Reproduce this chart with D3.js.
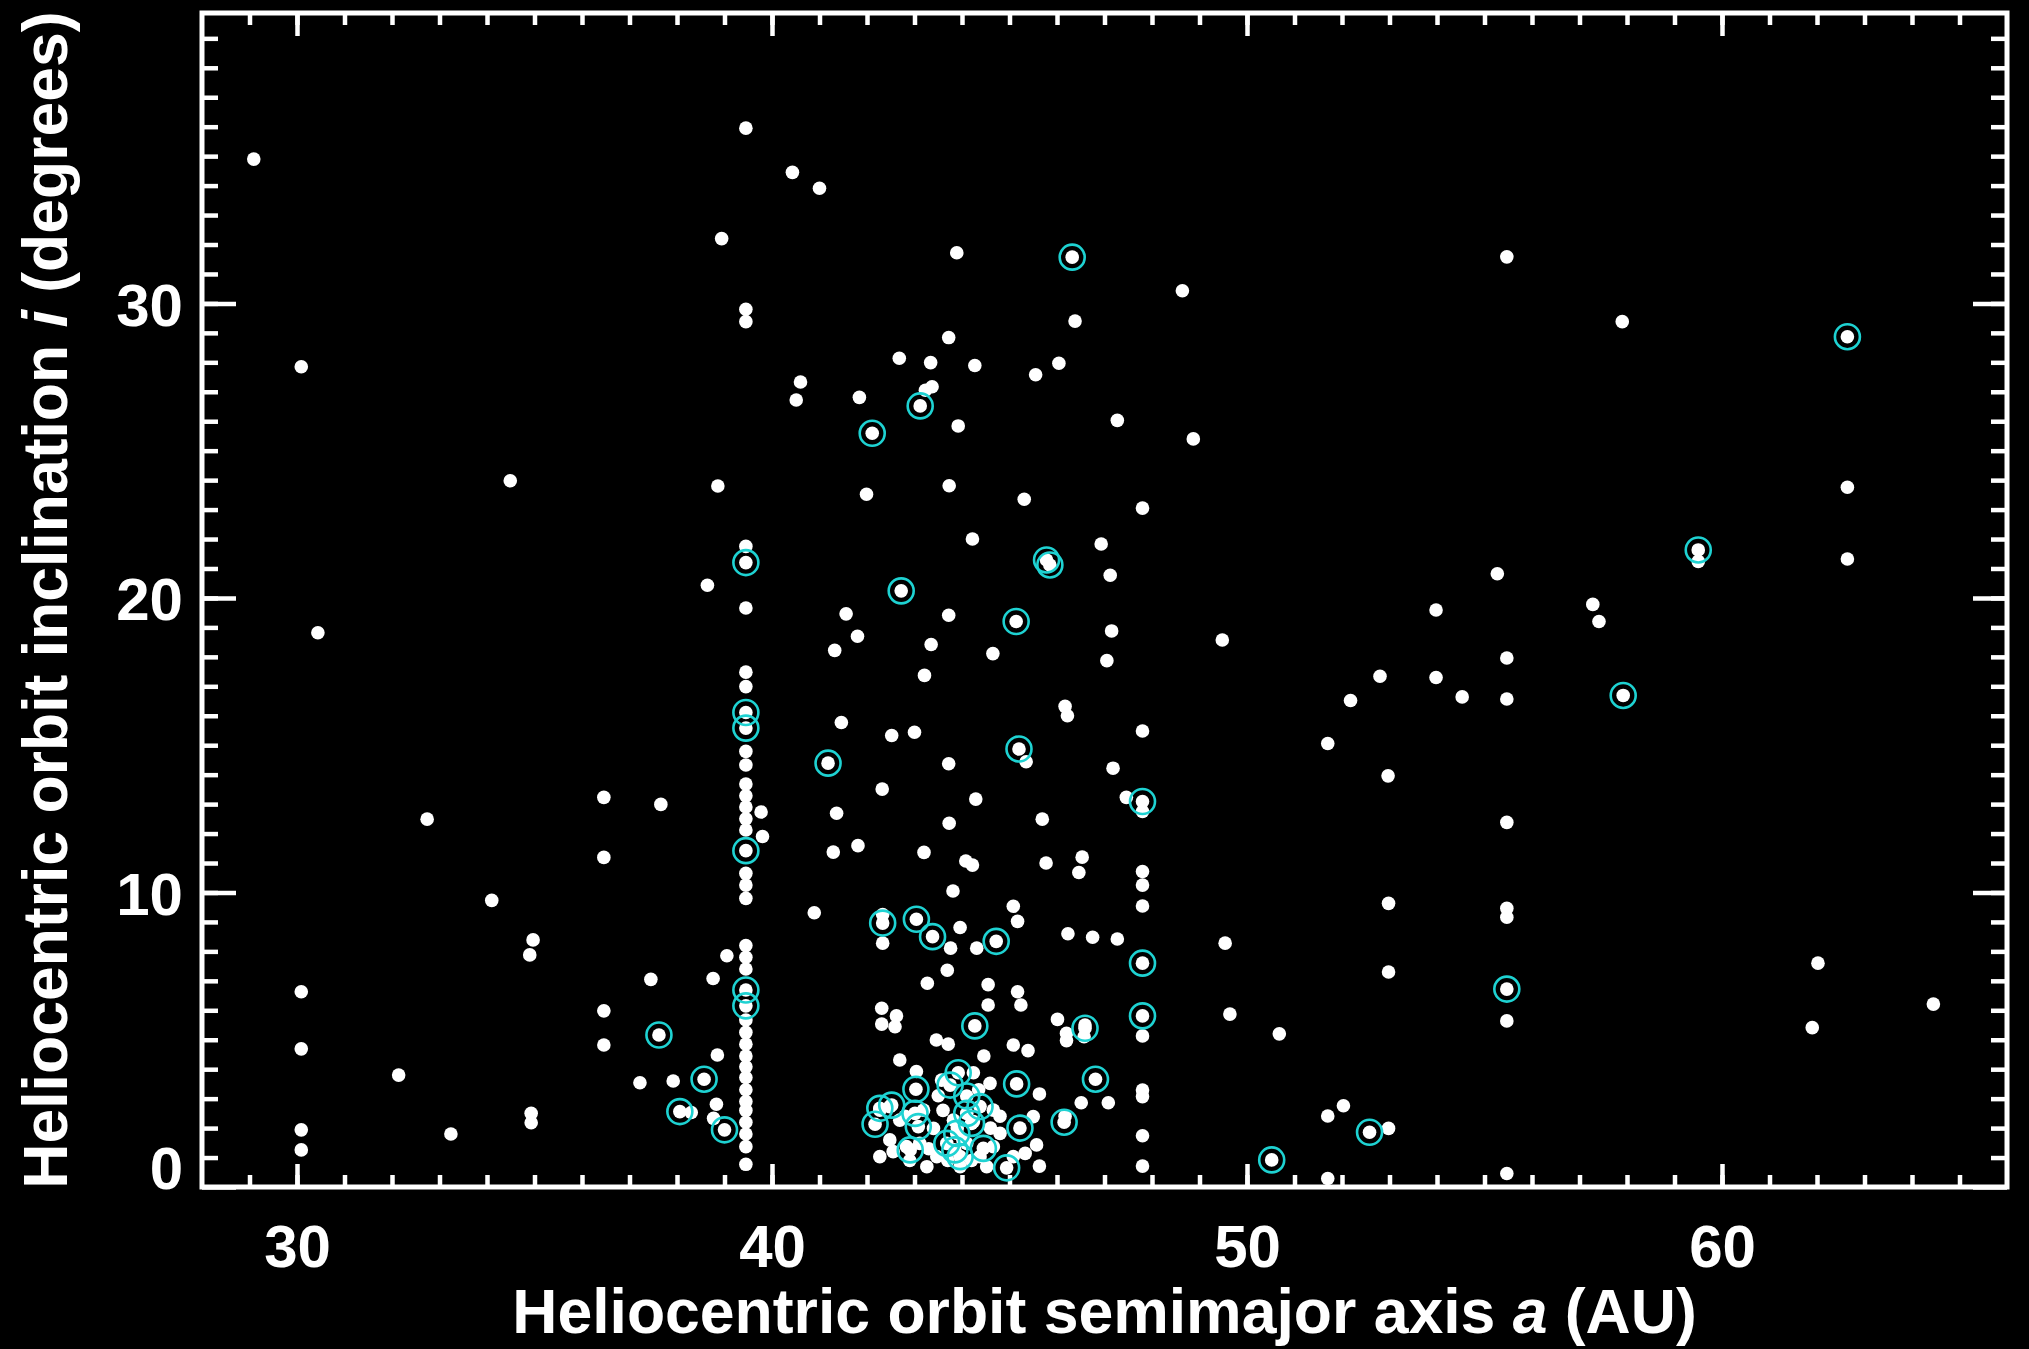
<!DOCTYPE html>
<html>
<head>
<meta charset="utf-8">
<script src="https://cdn.jsdelivr.net/npm/d3@7"></script>
<style>
  html, body { margin: 0; padding: 0; background: #000; }
  svg { display: block; }
</style>
</head>
<body>
<svg id="chart" width="2029" height="1349"></svg>
<script>
// Trans-Neptunian objects: heliocentric semimajor axis (AU) against orbit inclination (deg).
// Objects in the first pair of arrays are plain dots; the second pair are also ringed.

const plainAxis = [
  29.09, 39.45, 38.94, 39.45, 39.45, 30.09, 40.43, 41.00, 43.89, 48.64,
  46.38, 43.72, 42.68, 43.34, 44.27, 45.55, 46.04, 40.60, 40.51, 41.84,
  43.37, 43.23, 43.92, 47.27, 48.87, 55.47, 57.90, 34.49, 38.86, 39.45,
  38.64, 39.45, 30.44, 39.45, 39.45, 39.45, 39.45, 39.45, 39.45, 39.45,
  39.45, 39.45, 39.77, 39.80, 36.46, 37.66, 32.74, 36.46, 39.45, 39.45,
  39.45, 34.10,
  41.99, 43.73, 45.31, 47.80, 44.22, 46.93, 47.12, 41.56, 43.72, 47.15,
  49.48, 41.80, 41.32, 43.35, 44.65, 47.05, 43.21, 46.17, 46.22, 41.46,
  47.80, 42.52, 43.00, 45.35, 43.72, 47.18, 42.32, 44.29, 47.46, 47.80,
  41.36, 43.73, 45.69, 41.29, 41.81, 43.20, 44.08, 44.22, 45.77, 46.53,
  46.46, 47.80, 47.80, 47.80, 43.81,
  62.64, 59.50, 62.64, 55.27, 53.98, 57.28, 57.41, 55.47, 52.80, 53.98,
  52.18, 54.53, 55.47, 51.70, 52.97, 55.47,
  34.97, 34.90, 39.45, 39.45, 39.45, 39.05, 30.09, 37.45, 38.76, 36.46,
  39.45, 39.45, 39.45, 39.45, 39.45, 36.46, 30.09, 38.85, 32.14, 37.22,
  37.92, 39.45, 39.45, 39.45, 38.83, 38.30, 38.77, 34.93, 34.93, 30.09,
  30.09, 33.24, 39.45, 39.45, 39.45, 39.45, 39.45,
  40.89, 42.33, 42.33, 43.96, 43.76, 44.31, 45.08, 45.17, 43.69, 43.27,
  44.55, 44.55, 42.31, 42.62, 42.31, 42.59, 43.46, 43.71, 44.46, 45.08,
  46.23, 46.75, 47.27, 49.54, 45.17, 45.24, 46.01, 46.20, 46.20, 46.59,
  46.57, 47.80, 49.64, 45.39, 45.63, 46.51, 47.08, 46.17, 47.80, 47.80,
  47.80, 47.80, 45.50, 45.57, 45.33, 45.63,
  52.98, 55.47, 55.47, 52.98, 55.47, 50.68, 62.02, 61.90, 64.45, 52.03,
  51.70, 52.98, 51.70, 55.47,
  42.69, 43.04, 44.24, 44.59, 43.57, 42.48, 42.27, 43.19, 42.69, 43.40,
  44.24, 44.66, 42.48, 42.83, 43.11, 43.47, 42.27, 42.55, 44.38, 44.66,
  44.10, 43.82, 44.80, 45.08, 44.52, 43.96, 43.26,
  43.90, 44.02, 43.70, 44.20, 42.90, 43.30, 44.60, 43.60, 42.80, 44.80,
  43.50, 44.35
];

const plainIncl = [
  34.90, 35.95, 32.20, 29.80, 29.38, 27.85, 34.45, 33.91, 31.72, 30.43,
  29.40, 28.84, 28.14, 27.99, 27.89, 27.58, 27.97, 27.33, 26.72, 26.81,
  27.17, 27.05, 25.84, 26.03, 25.40, 31.58, 29.38, 23.98, 23.80, 21.75,
  20.43, 19.66, 18.82, 17.48, 16.99, 14.79, 14.33, 13.68, 13.28, 12.90,
  12.50, 12.12, 12.73, 11.90, 13.23, 12.99, 12.49, 11.19, 10.65, 10.25,
   9.80,  9.73,
  23.52, 23.81, 23.35, 23.05, 22.00, 21.83, 20.77, 19.46, 19.41, 18.88,
  18.57, 18.70, 18.22, 18.42, 18.11, 17.87, 17.37, 16.32, 16.00, 15.77,
  15.48, 15.33, 15.44, 14.44, 14.37, 14.22, 13.51, 13.17, 13.23, 12.75,
  12.69, 12.35, 12.49, 11.37, 11.59, 11.36, 11.07, 10.93, 11.00, 11.20,
  10.68, 10.71, 10.25,  9.54, 10.05,
  23.76, 21.24, 21.32, 20.82, 19.59, 19.78, 19.20, 17.96, 17.34, 17.30,
  16.52, 16.64, 16.57, 15.06, 13.96, 12.38,
   8.39,  7.88,  8.20,  7.80,  7.40,  7.85,  6.63,  7.05,  7.08,  5.98,
   5.67,  5.25,  4.85,  4.45,  4.08,  4.82,  4.69,  4.48,  3.80,  3.54,
   3.60,  3.72,  3.30,  2.90,  2.81,  2.53,  2.33,  2.50,  2.18,  1.94,
   1.26,  1.80,  2.60,  2.20,  1.80,  1.37,  0.77,
   9.31,  9.25,  8.28,  8.81,  8.11,  8.11,  9.53,  9.02,  7.36,  6.92,
   6.87,  6.18,  6.07,  5.81,  5.53,  5.44,  4.99,  4.85,  4.45,  4.82,
   8.60,  8.48,  8.42,  8.28,  6.63,  6.18,  5.69,  5.22,  4.97,  5.50,
   5.10,  5.13,  5.87,  4.63,  3.16,  2.86,  2.86,  2.40,  3.29,  3.07,
   1.74,  0.71,  2.39,  1.43,  1.14,  0.71,
   9.63,  9.46,  9.16,  7.30,  5.64,  5.20,  7.60,  5.41,  6.21,  2.76,
   2.41,  1.99,  0.29,  0.46,
   4.31,  3.92,  3.88,  3.52,  3.63,  2.73,  2.61,  2.61,  2.27,  1.99,
   2.22,  2.61,  1.60,  1.37,  1.48,  1.03,  1.03,  1.20,  1.03,  1.37,
   1.48,  2.27,  1.82,  1.03,  0.69,  0.69,  0.69,
   2.00,  1.60,  0.90,  0.90,  0.90,  1.30,  2.00,  2.60,  2.40,  2.40,
   3.10,  3.30
];

const ringAxis = [
  46.32, 43.12, 42.11, 62.64, 39.45, 39.45, 39.45, 39.45, 45.78, 45.85,
  42.72, 45.14, 45.20, 41.18, 47.80, 59.50, 57.92, 39.45, 39.45, 37.62,
  38.57, 38.06, 39.00, 42.33, 43.04, 43.38, 44.72, 44.27, 47.80, 46.59,
  47.80, 45.15, 46.81, 46.15, 45.22, 44.94, 55.47, 52.58, 50.52,
  43.03, 43.92, 43.75, 42.52, 42.27, 42.17, 43.01, 43.08, 44.10, 44.38,
  44.10, 44.20, 43.89, 43.68, 43.85, 43.96, 42.91, 44.45
];

const ringIncl = [
  31.57, 26.52, 25.59, 28.87, 21.20, 16.11, 15.58, 11.42, 21.29, 21.12,
  20.24, 19.20, 14.87, 14.39, 13.09, 21.63, 16.69,  6.69,  6.15,  5.16,
   3.66,  2.56,  1.94,  8.96,  9.09,  8.50,  8.34,  5.47,  7.60,  5.39,
   5.81,  3.50,  3.66,  2.20,  2.00,  0.65,  6.72,  1.86,  0.92,
   3.32,  3.88,  3.46,  2.78,  2.67,  2.13,  2.50,  2.05,  3.09,  2.73,
   2.50,  2.16,  1.82,  1.48,  1.26,  1.03,  1.26,  1.31
];

const xMajorTicks = [30, 40, 50, 60];
const yMajorTicks = [0, 10, 20, 30];
const xMinorTicks = d3.range(29, 66);
const yMinorTicks = d3.range(1, 40);

const xTitle = ["Heliocentric orbit semimajor axis ", "a", " (AU)"];
const yTitle = ["Heliocentric orbit inclination ", "i", " (degrees)"];

const W = 2029, H = 1349;
const plotL = 202, plotR = 2007, plotT = 13, plotB = 1187;
const FONT = "'Liberation Sans', Arial, Helvetica, sans-serif";
const RING = "#1ed2d2";

const x = d3.scaleLinear().domain([28, 66]).range([plotL, plotR]);
const y = d3.scaleLinear().domain([0, 39.86]).range([plotB, plotT]);

const svg = d3.select("#chart");
svg.append("rect").attr("width", W).attr("height", H).attr("fill", "#000");

function cleanAxis(g, width) {
  g.select(".domain").remove();
  g.selectAll(".tick line").attr("stroke", "#fff").attr("stroke-width", width);
  g.selectAll(".tick text")
    .attr("fill", "#fff")
    .attr("font-family", FONT)
    .attr("font-weight", "bold")
    .attr("font-size", 60);
}

// bottom axis: minor and major ticks pointing into the plot, labels below
svg.append("g").attr("transform", `translate(0,${plotB})`)
  .call(d3.axisBottom(x).tickValues(xMinorTicks).tickSize(-12).tickFormat(""))
  .call(g => cleanAxis(g, 4.5));
svg.append("g").attr("transform", `translate(0,${plotB})`)
  .call(d3.axisBottom(x).tickValues(xMajorTicks).tickSize(-23).tickFormat(d3.format("d")))
  .call(g => cleanAxis(g, 4.5))
  .call(g => g.selectAll(".tick text").attr("y", 80).attr("dy", 0));

// top axis mirrors the bottom one, no labels
svg.append("g").attr("transform", `translate(0,${plotT})`)
  .call(d3.axisTop(x).tickValues(xMinorTicks).tickSize(-12).tickFormat(""))
  .call(g => cleanAxis(g, 4.5));
svg.append("g").attr("transform", `translate(0,${plotT})`)
  .call(d3.axisTop(x).tickValues(xMajorTicks).tickSize(-23).tickFormat(""))
  .call(g => cleanAxis(g, 4.5));

// left axis
svg.append("g").attr("transform", `translate(${plotL},0)`)
  .call(d3.axisLeft(y).tickValues(yMinorTicks).tickSize(-16).tickFormat(""))
  .call(g => cleanAxis(g, 4.5));
svg.append("g").attr("transform", `translate(${plotL},0)`)
  .call(d3.axisLeft(y).tickValues(yMajorTicks).tickSize(-34).tickFormat(d3.format("d")))
  .call(g => cleanAxis(g, 4.5))
  .call(g => g.selectAll(".tick text").attr("x", -19).attr("dy", "0.36em"))
  .call(g => g.selectAll(".tick text").filter(d => d === 0).attr("dy", "0.03em"));

// right axis
svg.append("g").attr("transform", `translate(${plotR},0)`)
  .call(d3.axisRight(y).tickValues(yMinorTicks).tickSize(-16).tickFormat(""))
  .call(g => cleanAxis(g, 4.5));
svg.append("g").attr("transform", `translate(${plotR},0)`)
  .call(d3.axisRight(y).tickValues(yMajorTicks).tickSize(-34).tickFormat(""))
  .call(g => cleanAxis(g, 4.5));

// plot frame
svg.append("rect")
  .attr("x", plotL).attr("y", plotT)
  .attr("width", plotR - plotL).attr("height", plotB - plotT)
  .attr("fill", "none").attr("stroke", "#fff").attr("stroke-width", 5);

// objects
const plain = plainAxis.map((a, k) => ({ a, i: plainIncl[k] }));
const ringed = ringAxis.map((a, k) => ({ a, i: ringIncl[k] }));

svg.append("g").selectAll("circle")
  .data(plain.concat(ringed))
  .join("circle")
  .attr("cx", d => x(d.a))
  .attr("cy", d => y(d.i))
  .attr("r", 6.8)
  .attr("fill", "#fff");

svg.append("g").selectAll("circle")
  .data(ringed)
  .join("circle")
  .attr("cx", d => x(d.a))
  .attr("cy", d => y(d.i))
  .attr("r", 12.5)
  .attr("fill", "none")
  .attr("stroke", RING)
  .attr("stroke-width", 2.6);

// axis titles
function title(parts, attrs) {
  const t = svg.append("text")
    .attr("fill", "#fff")
    .attr("font-family", FONT)
    .attr("font-weight", "bold")
    .attr("font-size", 62.5)
    .attr("text-anchor", "middle");
  Object.entries(attrs).forEach(([k, v]) => t.attr(k, v));
  parts.forEach((p, k) => {
    const s = t.append("tspan").text(p);
    if (k === 1) s.attr("font-style", "italic");
  });
  return t;
}

title(xTitle, { x: (plotL + plotR) / 2, y: 1333 });
title(yTitle, { transform: `translate(67,${(plotT + plotB) / 2}) rotate(-90)` });
</script>
</body>
</html>
